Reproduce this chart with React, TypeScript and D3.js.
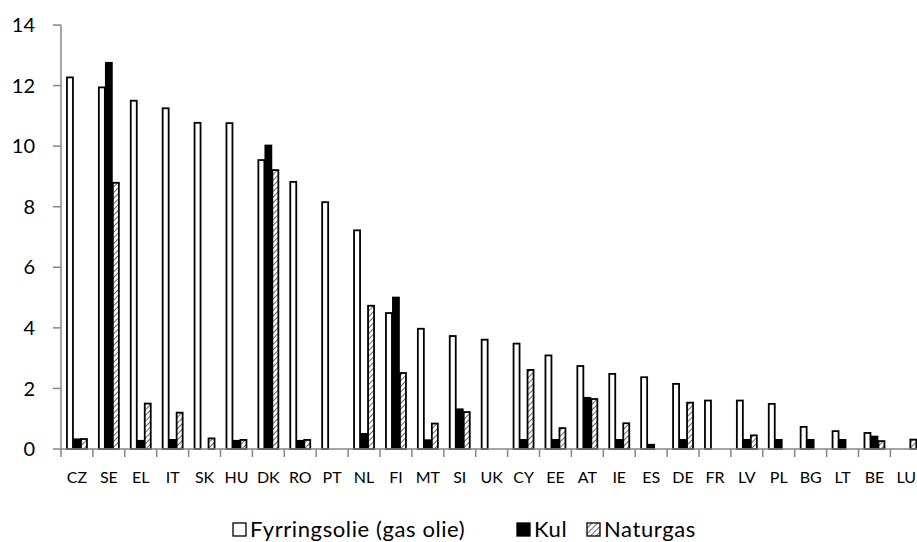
import React, { useEffect, useRef } from "react";
import * as d3 from "d3";

const countries = ["CZ", "SE", "EL", "IT", "SK", "HU", "DK", "RO", "PT", "NL", "FI", "MT", "SI", "UK", "CY", "EE", "AT", "IE", "ES", "DE", "FR", "LV", "PL", "BG", "LT", "BE", "LU"];
const seriesNames = ["Fyrringsolie (gas olie)", "Kul", "Naturgas"];
const fyrringsolie = [12.27, 11.94, 11.5, 11.25, 10.77, 10.76, 9.54, 8.82, 8.15, 7.22, 4.49, 3.97, 3.73, 3.61, 3.48, 3.09, 2.74, 2.48, 2.37, 2.15, 1.6, 1.6, 1.49, 0.73, 0.59, 0.53, 0];
const kul = [0.32, 12.75, 0.27, 0.3, 0, 0.27, 10.02, 0.27, 0, 0.5, 5.0, 0.29, 1.31, 0, 0.3, 0.3, 1.69, 0.3, 0.14, 0.3, 0, 0.3, 0.3, 0.3, 0.3, 0.41, 0];
const naturgas = [0.33, 8.79, 1.5, 1.2, 0.35, 0.3, 9.21, 0.3, 0, 4.73, 2.51, 0.84, 1.22, 0, 2.61, 0.69, 1.65, 0.85, 0, 1.53, 0, 0.45, 0, 0, 0, 0.26, 0.31];
const yTicks = [0, 2, 4, 6, 8, 10, 12, 14];

const FONT = "Lato, 'Open Sans', sans-serif";

export default function App() {
  const svgRef = useRef<SVGSVGElement>(null);

  useEffect(() => {
    if (!svgRef.current) return;
    const svg = d3.select(svgRef.current);
    svg.selectAll("*").remove();

    const W = 917, H = 542;
    const left = 61;
    const step = 31.9;

    // hatch pattern for Naturgas
    const defs = svg.append("defs");
    const pat = defs.append("pattern")
      .attr("id", "hatch")
      .attr("patternUnits", "userSpaceOnUse")
      .attr("width", 4).attr("height", 4)
      .attr("patternTransform", "rotate(45)");
    pat.append("rect").attr("width", 4).attr("height", 4).attr("fill", "#fff");
    pat.append("line").attr("x1", 0).attr("y1", 0).attr("x2", 0).attr("y2", 4)
      .attr("stroke", "#444").attr("stroke-width", 1.6);

    const fills = ["#fff", "#000", "url(#hatch)"];
    const values = [fyrringsolie, kul, naturgas];

    const x = d3.scaleBand<string>().domain(countries).range([left, left + step * countries.length]);
    const x1 = d3.scaleBand<string>().domain(seriesNames).range([0, x.bandwidth()]).paddingOuter(0.78);
    const y = d3.scaleLinear().domain([0, 14]).range([449, 25]);

    // bars
    const g = svg.append("g");
    countries.forEach((c, i) => {
      seriesNames.forEach((s, k) => {
        const v = values[k][i];
        if (!v) return;
        const bx = (x(c) ?? 0) + (x1(s) ?? 0);
        g.append("rect")
          .attr("x", bx + 0.5)
          .attr("y", y(v))
          .attr("width", x1.bandwidth() - 1)
          .attr("height", y(0) - y(v))
          .attr("fill", fills[k])
          .attr("stroke", "#000")
          .attr("stroke-width", 1.8);
      });
    });

    const axisColor = "#868686";

    // left axis
    svg.append("line").attr("x1", left).attr("x2", left).attr("y1", y(14)).attr("y2", y(0))
      .attr("stroke", axisColor).attr("stroke-width", 1.5);
    yTicks.forEach(t => {
      svg.append("line").attr("x1", left - 8).attr("x2", left).attr("y1", y(t)).attr("y2", y(t))
        .attr("stroke", axisColor).attr("stroke-width", 1.5);
      svg.append("text").attr("x", 35).attr("y", y(t)).attr("dy", "0.36em")
        .attr("text-anchor", "end").attr("font-family", FONT).attr("font-size", 20)
        .attr("fill", "#000").text(String(t));
    });

    // bottom axis
    svg.append("line").attr("x1", left).attr("x2", W + 20).attr("y1", y(0)).attr("y2", y(0))
      .attr("stroke", axisColor).attr("stroke-width", 1.5);
    countries.forEach(c => {
      const bx = x(c) ?? 0;
      svg.append("line").attr("x1", bx).attr("x2", bx).attr("y1", y(0)).attr("y2", y(0) + 8)
        .attr("stroke", axisColor).attr("stroke-width", 1.5);
      svg.append("text").attr("x", bx + x.bandwidth() / 2).attr("y", 483)
        .attr("text-anchor", "middle").attr("font-family", FONT).attr("font-size", 16)
        .attr("fill", "#000").text(c);
    });

    // legend
    const legendX = [233, 517, 587];
    seriesNames.forEach((s, k) => {
      svg.append("rect").attr("x", legendX[k]).attr("y", 523).attr("width", 13).attr("height", 13)
        .attr("fill", fills[k]).attr("stroke", "#000").attr("stroke-width", 1.3);
      svg.append("text").attr("x", legendX[k] + 17).attr("y", 537)
        .attr("font-family", FONT).attr("font-size", 22).attr("letter-spacing", 0.6)
        .attr("fill", "#000").text(s);
    });

    svg.attr("width", W).attr("height", H);
  }, []);

  return (
    <div style={{ position: "fixed", left: 0, top: 0, width: 917, height: 542, background: "#fff" }}>
      <svg ref={svgRef} width={917} height={542} style={{ display: "block", overflow: "hidden" }} />
    </div>
  );
}
